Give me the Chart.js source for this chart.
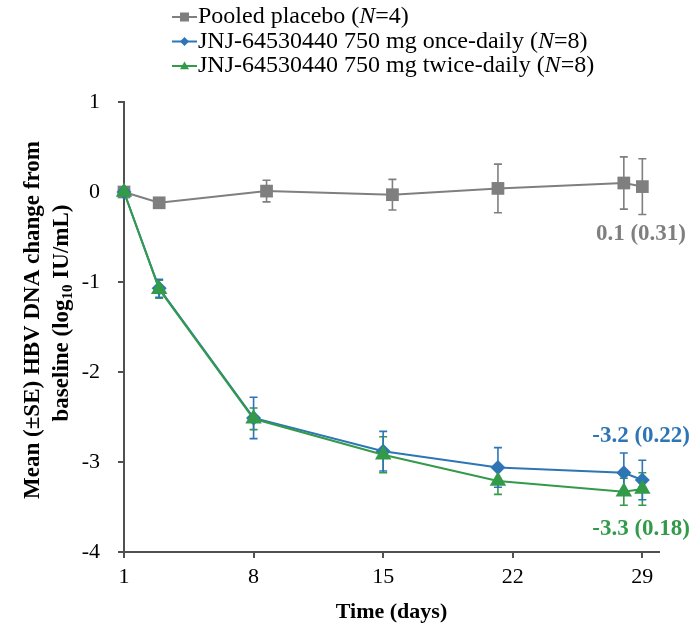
<!DOCTYPE html>
<html>
<head>
<meta charset="utf-8">
<script src="https://cdn.jsdelivr.net/npm/chart.js@4.4.1/dist/chart.umd.min.js"></script>
<style>
  html, body { margin: 0; padding: 0; background: #fff; }
  #wrap { width: 694px; height: 629px; position: relative; }
</style>
</head>
<body>
<div id="wrap"><canvas id="hbvChart"></canvas></div>
<script>
// Study day and mean (SE) change from baseline in HBV DNA, log10 IU/mL
const placeboDays = [1, 2.9, 8.7, 15.5, 21.2, 28, 29];
const placeboMean = [0, -0.12, 0.01, -0.03, 0.04, 0.1, 0.06];
const placeboSE = [0, 0.03, 0.12, 0.17, 0.27, 0.29, 0.31];

const activeDays = [1, 2.9, 8, 15, 21.2, 28, 29];
const onceMean = [0, -1.07, -2.51, -2.88, -3.06, -3.12, -3.2];
const onceSE = [0, 0.1, 0.23, 0.22, 0.22, 0.22, 0.22];
const twiceMean = [0, -1.08, -2.52, -2.92, -3.21, -3.33, -3.3];
const twiceSE = [0, 0.1, 0.12, 0.2, 0.15, 0.15, 0.18];

const xTickValues = [1, 8, 15, 22, 29];
const yTickValues = [1, 0, -1, -2, -3, -4];

const FONT = "'Liberation Serif', 'Times New Roman', serif";
const GRAY = '#7f7f7f';
const BLUE = '#2e75b6';
const GREEN = '#339a4a';
const AXIS = '#505050';

function toPoints(xs, ys) {
    return xs.map((x, i) => ({ x: x, y: ys[i] }));
}

// legend rows: label parts, the italic part marked
const legendRows = [
    { color: GRAY, style: 'rect', parts: [['Pooled placebo (', false], ['N', true], ['=4)', false]] },
    { color: BLUE, style: 'rectRot', parts: [['JNJ-64530440 750 mg once-daily (', false], ['N', true], ['=8)', false]] },
    { color: GREEN, style: 'triangle', parts: [['JNJ-64530440 750 mg twice-daily (', false], ['N', true], ['=8)', false]] },
];

// vertical SE bars with caps, drawn under the lines and markers
const errorBars = {
    id: 'errorBars',
    beforeDatasetsDraw(chart) {
        const { ctx, scales: { x, y } } = chart;
        ctx.save();
        chart.data.datasets.forEach(ds => {
            ctx.strokeStyle = ds.borderColor;
            ctx.lineWidth = 1.6;
            ds.data.forEach((p, i) => {
                const se = ds.se[i];
                if (!se) return;
                const px = x.getPixelForValue(p.x);
                const top = y.getPixelForValue(p.y + se);
                const bot = y.getPixelForValue(p.y - se);
                ctx.beginPath();
                ctx.moveTo(px, top); ctx.lineTo(px, bot);
                ctx.moveTo(px - 4, top); ctx.lineTo(px + 4, top);
                ctx.moveTo(px - 4, bot); ctx.lineTo(px + 4, bot);
                ctx.stroke();
            });
        });
        ctx.restore();
    }
};

// final-visit mean (SE) next to the last point of each series
const endLabels = {
    id: 'endLabels',
    afterDatasetsDraw(chart) {
        const { ctx, scales: { y } } = chart;
        ctx.save();
        ctx.font = 'bold 23px ' + FONT;
        ctx.textAlign = 'right';
        ctx.textBaseline = 'middle';
        chart.data.datasets.forEach(ds => {
            const n = ds.data.length - 1;
            const last = ds.data[n];
            const text = last.y.toFixed(1) + ' (' + ds.se[n].toFixed(2) + ')';
            const py = y.getPixelForValue(last.y);
            ctx.fillStyle = ds.borderColor;
            ctx.fillText(text, ds.labelRight, py + ds.labelShift);
        });
        ctx.restore();
    }
};

// y axis title in two lines, with a subscript in log10
const yTitle = {
    id: 'yTitle',
    afterDraw(chart) {
        const { ctx } = chart;
        const big = 'bold 23px ' + FONT;
        const small = 'bold 15px ' + FONT;
        ctx.save();
        ctx.fillStyle = '#000';
        ctx.textBaseline = 'middle';

        ctx.translate(33, 320);
        ctx.rotate(-Math.PI / 2);
        ctx.font = big;
        ctx.textAlign = 'center';
        ctx.fillText('Mean (\u00B1SE) HBV DNA change from', 0, 0);

        // second line, built from pieces so the subscript can shrink and drop
        ctx.translate(7, 29);
        ctx.textAlign = 'left';
        const a = 'baseline (log', b = '10', c = ' IU/mL)';
        ctx.font = big;
        const wa = ctx.measureText(a).width, wc = ctx.measureText(c).width;
        ctx.font = small;
        const wb = ctx.measureText(b).width;
        let cx = -(wa + wb + wc) / 2;
        ctx.font = big;
        ctx.fillText(a, cx, 0);
        cx += wa;
        ctx.font = small;
        ctx.fillText(b, cx, 6);
        cx += wb;
        ctx.font = big;
        ctx.fillText(c, cx, 0);
        ctx.restore();
    }
};

function drawMarker(ctx, style, cx, cy, r, color) {
    ctx.fillStyle = color;
    ctx.beginPath();
    if (style === 'rect') {
        ctx.rect(cx - r, cy - r, 2 * r, 2 * r);
    } else if (style === 'rectRot') {
        ctx.moveTo(cx, cy - r); ctx.lineTo(cx + r, cy); ctx.lineTo(cx, cy + r); ctx.lineTo(cx - r, cy);
        ctx.closePath();
    } else {
        ctx.moveTo(cx, cy - r); ctx.lineTo(cx + r, cy + r * 0.7); ctx.lineTo(cx - r, cy + r * 0.7);
        ctx.closePath();
    }
    ctx.fill();
}

const topLegend = {
    id: 'topLegend',
    afterDraw(chart) {
        const { ctx } = chart;
        ctx.save();
        ctx.textBaseline = 'middle';
        ctx.textAlign = 'left';
        legendRows.forEach((row, i) => {
            const cy = 17 + i * 24.5;
            ctx.strokeStyle = row.color;
            ctx.lineWidth = 2;
            ctx.beginPath();
            ctx.moveTo(172, cy); ctx.lineTo(197, cy);
            ctx.stroke();
            drawMarker(ctx, row.style, 184.5, cy, 4.5, row.color);
            let tx = 198;
            row.parts.forEach(([txt, italic]) => {
                ctx.font = (italic ? 'italic ' : '') + '24px ' + FONT;
                ctx.fillStyle = '#000';
                ctx.fillText(txt, tx, cy);
                tx += ctx.measureText(txt).width;
            });
        });
        ctx.restore();
    }
};

const ctx = document.getElementById('hbvChart').getContext('2d');
new Chart(ctx, {
    type: 'scatter',
    data: {
        datasets: [
            {
                label: 'JNJ-64530440 750 mg twice-daily',
                data: toPoints(activeDays, twiceMean),
                se: twiceSE,
                borderColor: GREEN, backgroundColor: GREEN,
                pointStyle: 'triangle', pointRadius: 9.5,
                labelRight: 690, labelShift: 40,
                order: 0,
            },
            {
                label: 'JNJ-64530440 750 mg once-daily',
                data: toPoints(activeDays, onceMean),
                se: onceSE,
                borderColor: BLUE, backgroundColor: BLUE,
                pointStyle: 'rectRot', pointRadius: 7.5,
                labelRight: 690, labelShift: -44,
                order: 1,
            },
            {
                label: 'Pooled placebo',
                data: toPoints(placeboDays, placeboMean),
                se: placeboSE,
                borderColor: GRAY, backgroundColor: GRAY,
                pointStyle: 'rect', pointRadius: 9,
                labelRight: 686, labelShift: 47,
                order: 2,
            },
        ].map(ds => Object.assign({
            showLine: true,
            borderWidth: 2,
            pointBorderWidth: 0,
            pointHoverRadius: ds.pointRadius,
            clip: false,
        }, ds))
    },
    options: {
        responsive: true,
        maintainAspectRatio: false,
        animation: false,
        events: [],
        layout: { padding: { top: 102, right: 35, left: 0, bottom: 0 } },
        plugins: { legend: { display: false }, tooltip: { enabled: false } },
        scales: {
            x: {
                type: 'linear',
                min: 1,
                max: 29.9,
                afterBuildTicks: scale => { scale.ticks = xTickValues.map(v => ({ value: v })); },
                afterFit: scale => { scale.height = 77; },
                ticks: {
                    autoSkip: false, maxRotation: 0, padding: 6, color: '#000',
                    font: { family: FONT, size: 22 },
                    callback: v => String(v),
                },
                grid: { drawOnChartArea: false, drawTicks: true, tickLength: 6, color: AXIS, lineWidth: 2 },
                border: { display: true, color: AXIS, width: 2 },
                title: {
                    display: true, text: 'Time (days)', color: '#000',
                    font: { family: FONT, size: 22, weight: 'bold' },
                    padding: { top: 0, bottom: 3 },
                },
            },
            y: {
                type: 'linear',
                min: -4,
                max: 1,
                afterBuildTicks: scale => { scale.ticks = yTickValues.map(v => ({ value: v })); },
                afterFit: scale => { scale.width = 124; },
                ticks: {
                    padding: 18, color: '#000',
                    font: { family: FONT, size: 22 },
                    callback: v => String(v),
                },
                grid: { drawOnChartArea: false, drawTicks: true, tickLength: 6, color: AXIS, lineWidth: 2 },
                border: { display: true, color: AXIS, width: 2 },
            },
        },
    },
    plugins: [errorBars, endLabels, yTitle, topLegend],
});
</script>
</body>
</html>
